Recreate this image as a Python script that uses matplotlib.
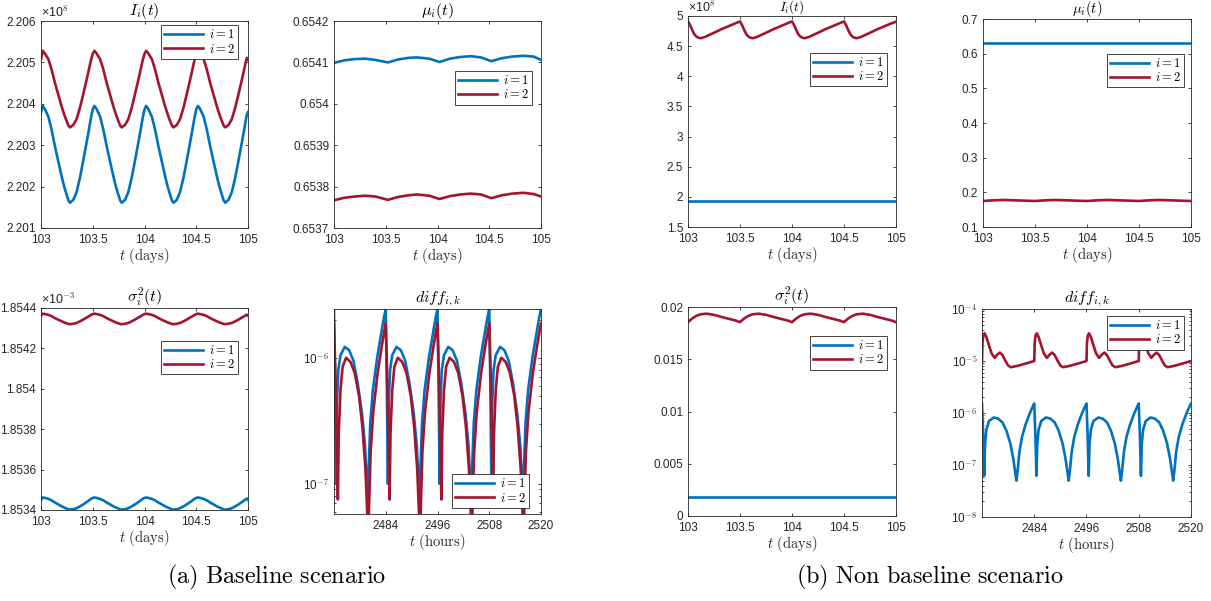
import matplotlib
matplotlib.use('Agg')
import matplotlib.pyplot as plt
from matplotlib.ticker import LogLocator, NullFormatter
import numpy as np

plt.rcParams['mathtext.fontset'] = 'cm'
plt.rcParams['font.family'] = ['Liberation Sans', 'DejaVu Sans']

BLUE = '#0072BD'
RED = '#A2142F'
AXC = '#262626'

# ------------------------------------------------------------------ data
# (a) Baseline scenario: I_i(t) and sigma_i^2(t)
days_a = [103.000,
          103.016, 103.036, 103.071, 103.101, 103.135, 103.166, 103.200, 103.226, 103.248, 103.266,
          103.280, 103.312, 103.344, 103.377, 103.409, 103.435, 103.457, 103.475, 103.489, 103.502,
          103.516, 103.536, 103.571, 103.601, 103.635, 103.666, 103.700, 103.726, 103.748, 103.766,
          103.780, 103.812, 103.844, 103.877, 103.909, 103.935, 103.957, 103.975, 103.989, 104.002,
          104.016, 104.036, 104.071, 104.101, 104.135, 104.166, 104.200, 104.226, 104.248, 104.266,
          104.280, 104.312, 104.344, 104.377, 104.409, 104.435, 104.457, 104.475, 104.489, 104.502,
          104.516, 104.536, 104.571, 104.601, 104.635, 104.666, 104.700, 104.726, 104.748, 104.766,
          104.780, 104.812, 104.844, 104.877, 104.909, 104.935, 104.957, 104.975, 104.989,
          105.000]
I_base_1 = [2.20380,
            2.20395, 2.20388, 2.20369, 2.20339, 2.20297, 2.20262, 2.20224, 2.20198, 2.20180, 2.20166,
            2.20161, 2.20168, 2.20187, 2.20222, 2.20264, 2.20299, 2.20329, 2.20355, 2.20374, 2.20388,
            2.20395, 2.20388, 2.20369, 2.20339, 2.20297, 2.20262, 2.20224, 2.20198, 2.20180, 2.20166,
            2.20161, 2.20168, 2.20187, 2.20222, 2.20264, 2.20299, 2.20329, 2.20355, 2.20374, 2.20388,
            2.20395, 2.20388, 2.20369, 2.20339, 2.20297, 2.20262, 2.20224, 2.20198, 2.20180, 2.20166,
            2.20161, 2.20168, 2.20187, 2.20222, 2.20264, 2.20299, 2.20329, 2.20355, 2.20374, 2.20388,
            2.20395, 2.20388, 2.20369, 2.20339, 2.20297, 2.20262, 2.20224, 2.20198, 2.20180, 2.20166,
            2.20161, 2.20168, 2.20187, 2.20222, 2.20264, 2.20299, 2.20329, 2.20355, 2.20374,
            2.20380]
I_base_2 = [2.20508,
            2.20528, 2.20522, 2.20508, 2.20484, 2.20450, 2.20423, 2.20393, 2.20373, 2.20358, 2.20347,
            2.20343, 2.20349, 2.20363, 2.20391, 2.20424, 2.20452, 2.20476, 2.20497, 2.20511, 2.20522,
            2.20528, 2.20522, 2.20508, 2.20484, 2.20450, 2.20423, 2.20393, 2.20373, 2.20358, 2.20347,
            2.20343, 2.20349, 2.20363, 2.20391, 2.20424, 2.20452, 2.20476, 2.20497, 2.20511, 2.20522,
            2.20528, 2.20522, 2.20508, 2.20484, 2.20450, 2.20423, 2.20393, 2.20373, 2.20358, 2.20347,
            2.20343, 2.20349, 2.20363, 2.20391, 2.20424, 2.20452, 2.20476, 2.20497, 2.20511, 2.20522,
            2.20528, 2.20522, 2.20508, 2.20484, 2.20450, 2.20423, 2.20393, 2.20373, 2.20358, 2.20347,
            2.20343, 2.20349, 2.20363, 2.20391, 2.20424, 2.20452, 2.20476, 2.20497, 2.20511,
            2.20508]
sig_base_1 = [1.853450,
              1.853462, 1.853460, 1.853455, 1.853448, 1.853437, 1.853428, 1.853418, 1.853412, 1.853407, 1.853403,
              1.853402, 1.853404, 1.853409, 1.853418, 1.853428, 1.853437, 1.853445, 1.853452, 1.853457, 1.853460,
              1.853462, 1.853460, 1.853455, 1.853448, 1.853437, 1.853428, 1.853418, 1.853412, 1.853407, 1.853403,
              1.853402, 1.853404, 1.853409, 1.853418, 1.853428, 1.853437, 1.853445, 1.853452, 1.853457, 1.853460,
              1.853462, 1.853460, 1.853455, 1.853448, 1.853437, 1.853428, 1.853418, 1.853412, 1.853407, 1.853403,
              1.853402, 1.853404, 1.853409, 1.853418, 1.853428, 1.853437, 1.853445, 1.853452, 1.853457, 1.853460,
              1.853462, 1.853460, 1.853455, 1.853448, 1.853437, 1.853428, 1.853418, 1.853412, 1.853407, 1.853403,
              1.853402, 1.853404, 1.853409, 1.853418, 1.853428, 1.853437, 1.853445, 1.853452, 1.853457,
              1.853450]
sig_base_2 = [1.854362,
              1.854372, 1.854370, 1.854366, 1.854360, 1.854350, 1.854342, 1.854334, 1.854328, 1.854324, 1.854321,
              1.854320, 1.854322, 1.854326, 1.854334, 1.854343, 1.854351, 1.854357, 1.854363, 1.854367, 1.854370,
              1.854372, 1.854370, 1.854366, 1.854360, 1.854350, 1.854342, 1.854334, 1.854328, 1.854324, 1.854321,
              1.854320, 1.854322, 1.854326, 1.854334, 1.854343, 1.854351, 1.854357, 1.854363, 1.854367, 1.854370,
              1.854372, 1.854370, 1.854366, 1.854360, 1.854350, 1.854342, 1.854334, 1.854328, 1.854324, 1.854321,
              1.854320, 1.854322, 1.854326, 1.854334, 1.854343, 1.854351, 1.854357, 1.854363, 1.854367, 1.854370,
              1.854372, 1.854370, 1.854366, 1.854360, 1.854350, 1.854342, 1.854334, 1.854328, 1.854324, 1.854321,
              1.854320, 1.854322, 1.854326, 1.854334, 1.854343, 1.854351, 1.854357, 1.854363, 1.854367,
              1.854362]

# (a) Baseline scenario: mu_i(t)
days_mu_a = [103.00, 103.10, 103.20, 103.30, 103.40, 103.52, 103.62, 103.72, 103.80, 103.92, 104.02,
             104.12, 104.22, 104.32, 104.42, 104.52, 104.62, 104.72, 104.83, 104.93, 105.00]
mu_base_1 = [0.654099, 0.654105, 0.654108, 0.654109, 0.654106, 0.654100, 0.654107, 0.654111, 0.654112,
             0.654109, 0.654101, 0.654109, 0.654113, 0.654115, 0.654112, 0.654103, 0.654110, 0.654114,
             0.654116, 0.654114, 0.654106]
mu_base_2 = [0.653767, 0.653773, 0.653776, 0.653778, 0.653776, 0.653768, 0.653775, 0.653779, 0.653781,
             0.653778, 0.653770, 0.653777, 0.653781, 0.653783, 0.653781, 0.653772, 0.653779, 0.653783,
             0.653785, 0.653782, 0.653776]

# (a) Baseline scenario: diff_{i,k} (hours)
hours_a_1 = [2472.0, 2472.25, 2472.5, 2472.7, 2473.0, 2473.5, 2474.5, 2475.5, 2476.5, 2477.5, 2478.5, 2479.2, 2479.6, 2479.8, 2480.0, 2480.4, 2481.0, 2482.0, 2483.0, 2483.6,
             2484.0, 2484.25, 2484.5, 2484.7, 2485.0, 2485.5, 2486.5, 2487.5, 2488.5, 2489.5, 2490.5, 2491.2, 2491.6, 2491.8, 2492.0, 2492.4, 2493.0, 2494.0, 2495.0, 2495.6,
             2496.0, 2496.25, 2496.5, 2496.7, 2497.0, 2497.5, 2498.5, 2499.5, 2500.5, 2501.5, 2502.5, 2503.2, 2503.6, 2503.8, 2504.0, 2504.4, 2505.0, 2506.0, 2507.0, 2507.6,
             2508.0, 2508.25, 2508.5, 2508.7, 2509.0, 2509.5, 2510.5, 2511.5, 2512.5, 2513.5, 2514.5, 2515.2, 2515.6, 2515.8, 2516.0, 2516.4, 2517.0, 2518.0, 2519.0, 2519.6,
             2520.0]
diff_a_1 = [2.44e-6, 6.0e-7, 1.0e-7, 4.5e-7, 8.0e-7, 1.05e-6, 1.22e-6, 1.15e-6, 9.5e-7, 6.3e-7, 3.6e-7, 2.0e-7, 1.0e-7, 6.5e-8, 1.2e-7, 3.0e-7, 5.5e-7, 1.0e-6, 1.6e-6, 2.1e-6,
            2.44e-6, 6.0e-7, 1.0e-7, 4.5e-7, 8.0e-7, 1.05e-6, 1.22e-6, 1.15e-6, 9.5e-7, 6.3e-7, 3.6e-7, 2.0e-7, 1.0e-7, 6.5e-8, 1.2e-7, 3.0e-7, 5.5e-7, 1.0e-6, 1.6e-6, 2.1e-6,
            2.44e-6, 6.0e-7, 1.0e-7, 4.5e-7, 8.0e-7, 1.05e-6, 1.22e-6, 1.15e-6, 9.5e-7, 6.3e-7, 3.6e-7, 2.0e-7, 1.0e-7, 6.5e-8, 1.2e-7, 3.0e-7, 5.5e-7, 1.0e-6, 1.6e-6, 2.1e-6,
            2.44e-6, 6.0e-7, 1.0e-7, 4.5e-7, 8.0e-7, 1.05e-6, 1.22e-6, 1.15e-6, 9.5e-7, 6.3e-7, 3.6e-7, 2.0e-7, 1.0e-7, 6.5e-8, 1.2e-7, 3.0e-7, 5.5e-7, 1.0e-6, 1.6e-6, 2.1e-6,
            2.44e-6]
hours_a_2 = [2472.0, 2472.3, 2472.6, 2472.9, 2473.1, 2473.5, 2474.0, 2474.8, 2475.8, 2476.8, 2477.8, 2478.6, 2479.3, 2479.7, 2479.9, 2480.1, 2480.5, 2481.1, 2482.1, 2483.1, 2483.7,
             2484.0, 2484.3, 2484.6, 2484.9, 2485.1, 2485.5, 2486.0, 2486.8, 2487.8, 2488.8, 2489.8, 2490.6, 2491.3, 2491.7, 2491.9, 2492.1, 2492.5, 2493.1, 2494.1, 2495.1, 2495.7,
             2496.0, 2496.3, 2496.6, 2496.9, 2497.1, 2497.5, 2498.0, 2498.8, 2499.8, 2500.8, 2501.8, 2502.6, 2503.3, 2503.7, 2503.9, 2504.1, 2504.5, 2505.1, 2506.1, 2507.1, 2507.7,
             2508.0, 2508.3, 2508.6, 2508.9, 2509.1, 2509.5, 2510.0, 2510.8, 2511.8, 2512.8, 2513.8, 2514.6, 2515.3, 2515.7, 2515.9, 2516.1, 2516.5, 2517.1, 2518.1, 2519.1, 2519.7,
             2520.0]
diff_a_2 = [1.87e-6, 8.0e-7, 2.5e-7, 7.5e-8, 2.5e-7, 5.5e-7, 8.5e-7, 1.0e-6, 9.3e-7, 7.6e-7, 5.0e-7, 2.8e-7, 1.3e-7, 6.0e-8, 3.0e-8, 6.0e-8, 1.8e-7, 3.7e-7, 7.5e-7, 1.25e-6, 1.65e-6,
            1.87e-6, 8.0e-7, 2.5e-7, 7.5e-8, 2.5e-7, 5.5e-7, 8.5e-7, 1.0e-6, 9.3e-7, 7.6e-7, 5.0e-7, 2.8e-7, 1.3e-7, 6.0e-8, 3.0e-8, 6.0e-8, 1.8e-7, 3.7e-7, 7.5e-7, 1.25e-6, 1.65e-6,
            1.87e-6, 8.0e-7, 2.5e-7, 7.5e-8, 2.5e-7, 5.5e-7, 8.5e-7, 1.0e-6, 9.3e-7, 7.6e-7, 5.0e-7, 2.8e-7, 1.3e-7, 6.0e-8, 3.0e-8, 6.0e-8, 1.8e-7, 3.7e-7, 7.5e-7, 1.25e-6, 1.65e-6,
            1.87e-6, 8.0e-7, 2.5e-7, 7.5e-8, 2.5e-7, 5.5e-7, 8.5e-7, 1.0e-6, 9.3e-7, 7.6e-7, 5.0e-7, 2.8e-7, 1.3e-7, 6.0e-8, 3.0e-8, 6.0e-8, 1.8e-7, 3.7e-7, 7.5e-7, 1.25e-6, 1.65e-6,
            1.87e-6]

# (b) Non baseline scenario: I_i(t)
days_b_I = [103.00, 103.02, 103.04, 103.06, 103.08, 103.10, 103.12, 103.14, 103.17, 103.21, 103.26, 103.32, 103.39, 103.45,
            103.50, 103.52, 103.54, 103.56, 103.58, 103.60, 103.62, 103.64, 103.67, 103.71, 103.76, 103.82, 103.89, 103.95,
            104.00, 104.02, 104.04, 104.06, 104.08, 104.10, 104.12, 104.14, 104.17, 104.21, 104.26, 104.32, 104.39, 104.45,
            104.50, 104.52, 104.54, 104.56, 104.58, 104.60, 104.62, 104.64, 104.67, 104.71, 104.76, 104.82, 104.89, 104.95,
            105.00]
I_non_2 = [4.910, 4.850, 4.770, 4.700, 4.660, 4.640, 4.632, 4.640, 4.657, 4.690, 4.730, 4.780, 4.830, 4.875,
           4.910, 4.850, 4.770, 4.700, 4.660, 4.640, 4.632, 4.640, 4.657, 4.690, 4.730, 4.780, 4.830, 4.875,
           4.910, 4.850, 4.770, 4.700, 4.660, 4.640, 4.632, 4.640, 4.657, 4.690, 4.730, 4.780, 4.830, 4.875,
           4.910, 4.850, 4.770, 4.700, 4.660, 4.640, 4.632, 4.640, 4.657, 4.690, 4.730, 4.780, 4.830, 4.875,
           4.905]
days_flat = [103.0, 103.5, 104.0, 104.5, 105.0]
I_non_1 = [1.930, 1.930, 1.930, 1.930, 1.930]

# (b) Non baseline scenario: mu_i(t)
mu_non_1 = [0.6297, 0.6297, 0.6297, 0.6297, 0.6297]
days_b_mu = [103.0, 103.1, 103.2, 103.3, 103.5, 103.6, 103.7, 103.8, 104.0, 104.1, 104.2, 104.3,
             104.5, 104.6, 104.7, 104.8, 105.0]
mu_non_2 = [0.175, 0.177, 0.178, 0.177, 0.175, 0.177, 0.178, 0.177, 0.175, 0.177, 0.178, 0.177,
            0.175, 0.177, 0.178, 0.177, 0.175]

# (b) Non baseline scenario: sigma_i^2(t)
sig_non_1 = [0.00182, 0.00182, 0.00182, 0.00182, 0.00182]
days_b_sig = [103.00, 103.04, 103.08, 103.12, 103.18, 103.25, 103.32, 103.40, 103.46,
              103.50, 103.54, 103.58, 103.62, 103.68, 103.75, 103.82, 103.90, 103.96,
              104.00, 104.04, 104.08, 104.12, 104.18, 104.25, 104.32, 104.40, 104.46,
              104.50, 104.54, 104.58, 104.62, 104.68, 104.75, 104.82, 104.90, 104.96,
              105.00]
sig_non_2 = [0.01855, 0.01890, 0.01915, 0.01930, 0.01936, 0.01925, 0.01905, 0.01885, 0.01870,
             0.01855, 0.01890, 0.01915, 0.01930, 0.01936, 0.01925, 0.01905, 0.01885, 0.01870,
             0.01855, 0.01890, 0.01915, 0.01930, 0.01936, 0.01925, 0.01905, 0.01885, 0.01870,
             0.01855, 0.01890, 0.01915, 0.01930, 0.01936, 0.01925, 0.01905, 0.01885, 0.01870,
             0.01855]

# (b) Non baseline scenario: diff_{i,k}
hours_b_1 = [2472.0, 2472.25, 2472.5, 2472.7, 2473.0, 2473.6, 2474.7, 2475.7, 2476.7, 2477.6, 2478.5, 2479.2, 2479.6, 2479.9, 2480.2, 2480.6, 2481.2, 2482.0, 2483.0, 2483.6,
             2484.0, 2484.25, 2484.5, 2484.7, 2485.0, 2485.6, 2486.7, 2487.7, 2488.7, 2489.6, 2490.5, 2491.2, 2491.6, 2491.9, 2492.2, 2492.6, 2493.2, 2494.0, 2495.0, 2495.6,
             2496.0, 2496.25, 2496.5, 2496.7, 2497.0, 2497.6, 2498.7, 2499.7, 2500.7, 2501.6, 2502.5, 2503.2, 2503.6, 2503.9, 2504.2, 2504.6, 2505.2, 2506.0, 2507.0, 2507.6,
             2508.0, 2508.25, 2508.5, 2508.7, 2509.0, 2509.6, 2510.7, 2511.7, 2512.7, 2513.6, 2514.5, 2515.2, 2515.6, 2515.9, 2516.2, 2516.6, 2517.2, 2518.0, 2519.0, 2519.6,
             2520.0]
diff_b_1 = [1.52e-6, 4.0e-7, 6.2e-8, 2.5e-7, 4.8e-7, 7.0e-7, 8.2e-7, 7.8e-7, 6.6e-7, 4.6e-7, 2.6e-7, 1.3e-7, 7.5e-8, 5.0e-8, 8.0e-8, 1.8e-7, 3.5e-7, 6.0e-7, 1.0e-6, 1.3e-6,
            1.52e-6, 4.0e-7, 6.2e-8, 2.5e-7, 4.8e-7, 7.0e-7, 8.2e-7, 7.8e-7, 6.6e-7, 4.6e-7, 2.6e-7, 1.3e-7, 7.5e-8, 5.0e-8, 8.0e-8, 1.8e-7, 3.5e-7, 6.0e-7, 1.0e-6, 1.3e-6,
            1.52e-6, 4.0e-7, 6.2e-8, 2.5e-7, 4.8e-7, 7.0e-7, 8.2e-7, 7.8e-7, 6.6e-7, 4.6e-7, 2.6e-7, 1.3e-7, 7.5e-8, 5.0e-8, 8.0e-8, 1.8e-7, 3.5e-7, 6.0e-7, 1.0e-6, 1.3e-6,
            1.52e-6, 4.0e-7, 6.2e-8, 2.5e-7, 4.8e-7, 7.0e-7, 8.2e-7, 7.8e-7, 6.6e-7, 4.6e-7, 2.6e-7, 1.3e-7, 7.5e-8, 5.0e-8, 8.0e-8, 1.8e-7, 3.5e-7, 6.0e-7, 1.0e-6, 1.3e-6,
            1.52e-6]
hours_b_2 = [2472.0, 2472.1, 2472.3, 2472.6, 2473.0, 2473.6, 2474.2, 2474.9, 2475.5, 2476.1, 2476.7, 2477.4, 2478.0, 2478.6, 2480.0, 2482.0,
             2484.0, 2484.1, 2484.3, 2484.6, 2485.0, 2485.6, 2486.2, 2486.9, 2487.5, 2488.1, 2488.7, 2489.4, 2490.0, 2490.6, 2492.0, 2494.0,
             2496.0, 2496.1, 2496.3, 2496.6, 2497.0, 2497.6, 2498.2, 2498.9, 2499.5, 2500.1, 2500.7, 2501.4, 2502.0, 2502.6, 2504.0, 2506.0,
             2508.0, 2508.1, 2508.3, 2508.6, 2509.0, 2509.6, 2510.2, 2510.9, 2511.5, 2512.1, 2512.7, 2513.4, 2514.0, 2514.6, 2516.0, 2518.0,
             2520.0]
diff_b_2 = [1.0e-5, 2.2e-5, 3.1e-5, 3.4e-5, 2.9e-5, 2.0e-5, 1.4e-5, 1.15e-5, 1.32e-5, 1.45e-5, 1.3e-5, 1.0e-5, 8.2e-6, 7.6e-6, 8.0e-6, 8.9e-6,
            1.0e-5, 2.2e-5, 3.1e-5, 3.4e-5, 2.9e-5, 2.0e-5, 1.4e-5, 1.15e-5, 1.32e-5, 1.45e-5, 1.3e-5, 1.0e-5, 8.2e-6, 7.6e-6, 8.0e-6, 8.9e-6,
            1.0e-5, 2.2e-5, 3.1e-5, 3.4e-5, 2.9e-5, 2.0e-5, 1.4e-5, 1.15e-5, 1.32e-5, 1.45e-5, 1.3e-5, 1.0e-5, 8.2e-6, 7.6e-6, 8.0e-6, 8.9e-6,
            1.0e-5, 2.2e-5, 3.1e-5, 3.4e-5, 2.9e-5, 2.0e-5, 1.4e-5, 1.15e-5, 1.32e-5, 1.45e-5, 1.3e-5, 1.0e-5, 8.2e-6, 7.6e-6, 8.0e-6, 8.9e-6,
            1.0e-5]

day_ticks = [103, 103.5, 104, 104.5, 105]
day_ticklabels = ['103', '103.5', '104', '104.5', '105']
hour_ticks = [2484, 2496, 2508, 2520]
legend_labels = [r'$i = 1$', r'$i = 2$']

# ------------------------------------------------------------------ figure
W, H = 1211, 601
fig = plt.figure(figsize=(W / 100, H / 100), dpi=100)
fig.patch.set_facecolor('white')

LW = 1.9


def add_ax(x0, y0, x1, y1):
    return fig.add_axes([x0 / W, 1 - y1 / H, (x1 - x0) / W, (y1 - y0) / H])


def style(ax, title, xlabel, tsize=11.5, tpad=2):
    ax.tick_params(direction='in', which='both', top=True, right=True,
                   labelsize=8.5, colors=AXC, length=2.5, width=0.6)
    ax.tick_params(axis='y', which='both', pad=3.5)
    ax.tick_params(axis='x', which='both', pad=4.5)
    ax.tick_params(which='minor', length=1.5)
    for sp in ax.spines.values():
        sp.set_color(AXC)
        sp.set_linewidth(0.6)
    ax.set_title(title, fontsize=tsize, pad=tpad, color='black')
    ax.set_xlabel(xlabel, fontsize=10.5, labelpad=0, color=AXC)


def legend(ax, anchor, loc='upper right'):
    leg = ax.legend(legend_labels, loc=loc, bbox_to_anchor=anchor, fontsize=9,
                    handlelength=3.1, handletextpad=0.5, borderpad=0.25,
                    labelspacing=0.1, borderaxespad=0.0, frameon=True,
                    fancybox=False, edgecolor=AXC, framealpha=1)
    leg.get_frame().set_linewidth(0.6)


def day_axis(ax):
    ax.set_xlim(103, 105)
    ax.set_xticks(day_ticks)
    ax.set_xticklabels(day_ticklabels)


def hour_axis(ax):
    ax.set_xlim(2472, 2520)
    ax.set_xticks(hour_ticks)
    ax.set_xticklabels([str(h) for h in hour_ticks])


def log_axis(ax, lo, hi, ticks, labels):
    ax.set_yscale('log')
    ax.set_ylim(lo, hi)
    ax.yaxis.set_minor_locator(LogLocator(base=10, subs=np.arange(2, 10), numticks=20))
    ax.yaxis.set_minor_formatter(NullFormatter())
    ax.set_yticks(ticks)
    ax.set_yticklabels(labels)


def exponent(ax, txt):
    ax.text(0.0, 1.005, txt, transform=ax.transAxes, fontsize=9, color=AXC,
            ha='left', va='bottom')


days_xlabel = r'$t\ \mathrm{(days)}$'
hours_xlabel = r'$t\ \mathrm{(hours)}$'

# ---- (a) I_i(t)
ax = add_ax(41, 21, 248, 228)
ax.plot(days_a, I_base_1, color=BLUE, lw=LW)
ax.plot(days_a, I_base_2, color=RED, lw=LW)
day_axis(ax)
ax.set_ylim(2.201, 2.206)
ax.set_yticks([2.201, 2.202, 2.203, 2.204, 2.205, 2.206])
ax.set_yticklabels(['2.201', '2.202', '2.203', '2.204', '2.205', '2.206'])
style(ax, r'$I_i(t)$', days_xlabel)
exponent(ax, '×10$^{\\mathsf{8}}$')
legend(ax, (0.952, 0.98))

# ---- (a) mu_i(t)
ax = add_ax(334, 21, 541, 228)
ax.plot(days_mu_a, mu_base_1, color=BLUE, lw=LW)
ax.plot(days_mu_a, mu_base_2, color=RED, lw=LW)
day_axis(ax)
ax.set_ylim(0.6537, 0.6542)
ax.set_yticks([0.6537, 0.6538, 0.6539, 0.6540, 0.6541, 0.6542])
ax.set_yticklabels(['0.6537', '0.6538', '0.6539', '0.654', '0.6541', '0.6542'])
style(ax, r'$\mu_i(t)$', days_xlabel)
legend(ax, (0.957, 0.758))

# ---- (a) sigma_i^2(t)
ax = add_ax(41, 308, 248, 510)
ax.plot(days_a, sig_base_1, color=BLUE, lw=LW)
ax.plot(days_a, sig_base_2, color=RED, lw=LW)
day_axis(ax)
ax.set_ylim(1.8534, 1.8544)
ax.set_yticks([1.8534, 1.8536, 1.8538, 1.8540, 1.8542, 1.8544])
ax.set_yticklabels(['1.8534', '1.8536', '1.8538', '1.854', '1.8542', '1.8544'])
style(ax, r'$\sigma_i^2(t)$', days_xlabel)
exponent(ax, '×10$^{\\mathsf{-3}}$')
legend(ax, (0.952, 0.837))

# ---- (a) diff
ax = add_ax(334, 309, 541, 514)
ax.plot(hours_a_1, diff_a_1, color=BLUE, lw=LW)
ax.plot(hours_a_2, diff_a_2, color=RED, lw=LW)
hour_axis(ax)
log_axis(ax, 5.75e-8, 2.44e-6, [1e-7, 1e-6],
         ['10$^{\\mathsf{-7}}$', '10$^{\\mathsf{-6}}$'])
style(ax, r'$diff_{i,k}$', hours_xlabel)
legend(ax, (0.942, 0.03), loc='lower right')

# ---- (b) I_i(t)
ax = add_ax(688, 16, 896, 227)
ax.plot(days_flat, I_non_1, color=BLUE, lw=LW)
ax.plot(days_b_I, I_non_2, color=RED, lw=LW)
day_axis(ax)
ax.set_ylim(1.5, 5)
ax.set_yticks([1.5, 2, 2.5, 3, 3.5, 4, 4.5, 5])
ax.set_yticklabels(['1.5', '2', '2.5', '3', '3.5', '4', '4.5', '5'])
style(ax, r'$I_i(t)$', days_xlabel, tsize=9.5, tpad=0)
exponent(ax, '×10$^{\\mathsf{8}}$')
legend(ax, (0.957, 0.825))

# ---- (b) mu_i(t)
ax = add_ax(983, 19, 1191, 227)
ax.plot(days_flat, mu_non_1, color=BLUE, lw=LW)
ax.plot(days_b_mu, mu_non_2, color=RED, lw=LW)
day_axis(ax)
ax.set_ylim(0.1, 0.7)
ax.set_yticks([0.1, 0.2, 0.3, 0.4, 0.5, 0.6, 0.7])
ax.set_yticklabels(['0.1', '0.2', '0.3', '0.4', '0.5', '0.6', '0.7'])
style(ax, r'$\mu_i(t)$', days_xlabel, tsize=10.5, tpad=1)
legend(ax, (0.966, 0.832))

# ---- (b) sigma_i^2(t)
ax = add_ax(688, 307, 896, 516)
ax.plot(days_flat, sig_non_1, color=BLUE, lw=LW)
ax.plot(days_b_sig, sig_non_2, color=RED, lw=LW)
day_axis(ax)
ax.set_ylim(0, 0.02)
ax.set_yticks([0, 0.005, 0.01, 0.015, 0.02])
ax.set_yticklabels(['0', '0.005', '0.01', '0.015', '0.02'])
style(ax, r'$\sigma_i^2(t)$', days_xlabel)
legend(ax, (0.957, 0.861))

# ---- (b) diff
ax = add_ax(982, 309, 1191, 517)
ax.plot(hours_b_1, diff_b_1, color=BLUE, lw=LW)
ax.plot(hours_b_2, diff_b_2, color=RED, lw=LW)
hour_axis(ax)
log_axis(ax, 1e-8, 1e-4, [1e-8, 1e-7, 1e-6, 1e-5, 1e-4],
         ['10$^{\\mathsf{-8}}$', '10$^{\\mathsf{-7}}$', '10$^{\\mathsf{-6}}$',
          '10$^{\\mathsf{-5}}$', '10$^{\\mathsf{-4}}$'])
style(ax, r'$diff_{i,k}$', hours_xlabel)
legend(ax, (0.967, 0.966))

# ---- captions
fig.text(277 / W, 1 - 577 / H, r'$\mathrm{(a)\ Baseline\ scenario}$',
         ha='center', va='center', fontsize=17.5)
fig.text(930 / W, 1 - 577 / H, r'$\mathrm{(b)\ Non\ baseline\ scenario}$',
         ha='center', va='center', fontsize=17.5)

fig.savefig('out.png', dpi=100, facecolor='white')
